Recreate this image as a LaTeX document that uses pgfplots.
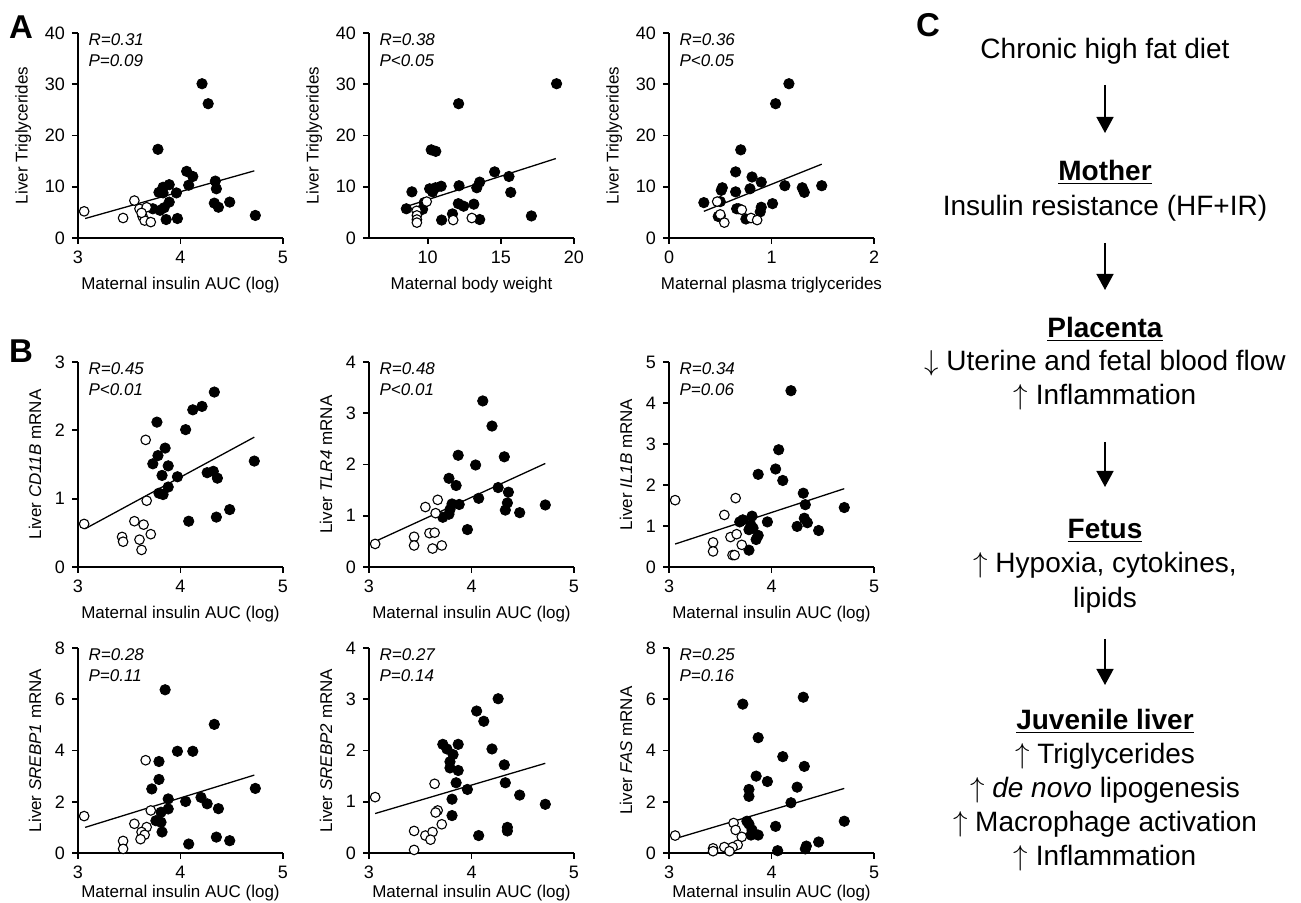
\documentclass[border=0pt]{standalone}
\usepackage{fontspec}
\setmainfont{Liberation Sans}
\usepackage{pgfplots}
\pgfplotsset{compat=1.18}
\usetikzlibrary{arrows.meta}

% GraphPad-like scatter panels
\pgfplotsset{
  gp/.style={
    scale only axis, width=102.5pt, height=102.5pt,
    anchor=south west,
    axis lines=left, axis line style={-, line width=0.95pt},
    tick align=outside, major tick length=3pt,
    every tick/.style={line width=0.95pt, black},
    tick label style={font=\fontsize{9}{10}\selectfont},
    label style={font=\fontsize{8.5}{10}\selectfont},
    xlabel style={at={(axis description cs:0.5,-0.232)}, anchor=center},
    /pgf/number format/assume math mode=true,
    clip=false,
  },
  ins/.style={gp, xmin=3, xmax=5, xtick={3,4,5}, xlabel={Maternal insulin AUC (log)}},
  low/.style={xlabel style={at={(axis description cs:0.5,-0.195)}}},
  filled/.style={only marks, mark=*, mark size=2.6pt, mark options={fill=black, draw=black}},
  open/.style={only marks, mark=*, mark size=2.4pt, mark options={fill=white, draw=black, line width=0.55pt}},
  fit/.style={black, line width=0.65pt, no marks},
}
\newcommand{\rp}[2]{\node[anchor=north west, align=left, inner sep=0pt,
  font=\fontsize{8.5}{10.5}\selectfont\itshape] at (rel axis cs:0.05,1) {#1\\#2};}

\begin{document}
\begin{tikzpicture}
\path[use as bounding box] (0,0) rectangle (650.5pt,451.5pt);

% ---------- A ----------
\begin{axis}[ins, at={(39pt,332.5pt)}, ymin=0, ymax=40, ytick={0,10,20,30,40},
  ylabel={Liver Triglycerides}]
\addplot[fit] coordinates {(3.07,3.8) (4.72,13.1)};
\addplot[filled] coordinates {(4.21,30.1)(4.27,26.2)(3.78,17.3)(4.06,13.0)(4.12,12.0)(4.08,10.3)(4.34,11.1)(4.35,9.6)(4.33,6.8)(4.37,6.0)(4.48,7.0)(3.96,8.8)(3.89,10.4)(3.83,9.9)(3.79,8.9)(3.83,8.8)(3.89,7.0)(3.84,5.9)(3.80,5.4)(3.73,5.7)(3.86,3.6)(3.97,3.8)(4.73,4.4)};
\addplot[open] coordinates {(3.06,5.2)(3.44,3.9)(3.55,7.3)(3.60,5.7)(3.67,6.0)(3.63,4.2)(3.65,3.4)(3.71,3.1)(3.62,4.9)};
\rp{R=0.31}{P=0.09}
\end{axis}

\begin{axis}[gp, at={(184.5pt,332.5pt)}, xmin=6, xmax=20, xtick={10,15,20},
  ymin=0, ymax=40, ytick={0,10,20,30,40},
  xlabel={Maternal body weight}, ylabel={Liver Triglycerides}]
\addplot[fit] coordinates {(8.4,6.0) (18.76,15.5)};
\addplot[filled] coordinates {(18.81,30.1)(12.12,26.2)(10.25,17.2)(10.56,16.9)(8.93,9.0)(8.55,5.7)(9.66,5.6)(9.77,6.9)(10.14,9.6)(10.34,9.0)(10.54,9.8)(10.93,10.1)(12.15,10.2)(10.96,3.5)(11.7,4.7)(12.1,6.7)(12.46,6.2)(13.16,6.6)(13.36,9.8)(13.56,10.9)(13.56,3.6)(14.58,12.9)(15.56,12.0)(15.68,8.9)(17.09,4.3)};
\addplot[open] coordinates {(9.25,5.3)(9.27,4.4)(9.27,3.6)(9.27,3.0)(9.94,7.1)(11.75,3.5)(13.02,3.9)};
\rp{R=0.38}{P<0.05}
\end{axis}

\begin{axis}[gp, at={(334.5pt,332.5pt)}, xmin=0, xmax=2, xtick={0,1,2},
  ymin=0, ymax=40, ytick={0,10,20,30,40},
  xlabel={Maternal plasma triglycerides}, ylabel={Liver Triglycerides}]
\addplot[fit] coordinates {(0.34,5.2) (1.49,14.4)};
\addplot[filled] coordinates {(0.34,6.9)(0.51,9.3)(0.52,9.8)(0.50,7.1)(0.48,4.2)(0.65,12.9)(0.65,9.0)(0.70,17.2)(0.66,5.7)(0.68,5.7)(0.75,3.7)(0.79,9.6)(0.81,11.9)(0.90,10.9)(0.90,6.0)(0.89,5.1)(1.01,6.7)(1.04,26.2)(1.17,30.1)(1.13,10.2)(1.30,9.8)(1.32,8.9)(1.49,10.2)(0.5,4.3)};
\addplot[open] coordinates {(0.47,7.1)(0.54,3.0)(0.71,5.5)(0.80,3.9)(0.86,3.5)(0.50,4.6)};
\rp{R=0.36}{P<0.05}
\end{axis}

% ---------- B, first row ----------
\begin{axis}[ins, at={(39pt,168pt)}, ymin=0, ymax=3, ytick={0,1,2,3},
  ylabel={Liver \textit{CD11B} mRNA}]
\addplot[fit] coordinates {(3.07,0.56) (4.72,1.90)};
\addplot[filled] coordinates {(4.33,2.56)(4.21,2.35)(4.12,2.30)(4.05,2.01)(3.77,2.12)(3.78,1.63)(3.85,1.74)(3.73,1.51)(3.88,1.48)(3.82,1.34)(3.97,1.32)(3.88,1.17)(3.79,1.08)(3.83,1.06)(4.26,1.38)(4.32,1.40)(4.36,1.30)(4.35,0.73)(4.48,0.84)(4.08,0.67)(4.72,1.55)};
\addplot[open] coordinates {(3.06,0.63)(3.66,1.86)(3.67,0.97)(3.55,0.67)(3.64,0.62)(3.71,0.48)(3.43,0.44)(3.44,0.37)(3.60,0.40)(3.62,0.25)};
\rp{R=0.45}{P<0.01}
\end{axis}

\begin{axis}[ins, at={(184.5pt,168pt)}, ymin=0, ymax=4, ytick={0,1,2,3,4},
  ylabel={Liver \textit{TLR4} mRNA}]
\addplot[fit] coordinates {(3.04,0.48) (4.72,2.02)};
\addplot[filled] coordinates {(4.11,3.24)(4.20,2.75)(3.87,2.18)(4.04,1.99)(4.32,2.15)(3.78,1.73)(3.85,1.59)(4.26,1.55)(4.36,1.46)(3.81,1.23)(3.88,1.22)(3.79,1.12)(3.78,1.03)(3.72,0.97)(4.07,1.34)(4.35,1.25)(4.33,1.11)(4.47,1.06)(4.72,1.21)(3.96,0.73)};
\addplot[open] coordinates {(3.06,0.45)(3.44,0.59)(3.44,0.42)(3.55,1.17)(3.67,1.31)(3.65,1.05)(3.59,0.66)(3.64,0.67)(3.62,0.36)(3.71,0.42)};
\rp{R=0.48}{P<0.01}
\end{axis}

\begin{axis}[ins, at={(334.5pt,168pt)}, ymin=0, ymax=5, ytick={0,1,2,3,4,5},
  ylabel={Liver \textit{IL1B} mRNA}]
\addplot[fit] coordinates {(3.06,0.56) (4.71,1.91)};
\addplot[filled] coordinates {(4.19,4.30)(4.07,2.86)(4.04,2.39)(4.11,2.11)(3.87,2.26)(4.31,1.80)(4.33,1.52)(4.32,1.19)(4.35,1.08)(4.25,0.99)(4.46,0.89)(4.71,1.45)(3.96,1.10)(3.69,1.10)(3.72,1.15)(3.81,1.24)(3.80,1.02)(3.78,0.91)(3.82,0.95)(3.87,0.77)(3.85,0.67)(3.78,0.41)};
\addplot[open] coordinates {(3.06,1.63)(3.65,1.68)(3.54,1.27)(3.43,0.60)(3.43,0.38)(3.60,0.73)(3.66,0.80)(3.71,0.54)(3.62,0.29)(3.64,0.29)};
\rp{R=0.34}{P=0.06}
\end{axis}

% ---------- B, second row ----------
\begin{axis}[ins, low, at={(39pt,25pt)}, ymin=0, ymax=8, ytick={0,2,4,6,8},
  ylabel={Liver \textit{SREBP1} mRNA}]
\addplot[fit] coordinates {(3.07,1.0) (4.72,3.04)};
\addplot[filled] coordinates {(3.85,6.37)(4.33,5.02)(3.97,3.97)(4.12,3.97)(3.79,3.57)(3.79,2.87)(3.72,2.50)(3.88,2.11)(4.05,2.01)(4.20,2.17)(4.26,1.92)(4.37,1.73)(3.88,1.72)(3.81,1.59)(3.76,1.26)(3.81,1.20)(3.82,0.82)(4.08,0.35)(4.35,0.62)(4.48,0.48)(4.73,2.52)};
\addplot[open] coordinates {(3.06,1.44)(3.66,3.62)(3.71,1.66)(3.55,1.14)(3.67,1.01)(3.62,0.82)(3.65,0.71)(3.61,0.54)(3.44,0.47)(3.44,0.16)};
\rp{R=0.28}{P=0.11}
\end{axis}

\begin{axis}[ins, low, at={(184.5pt,25pt)}, ymin=0, ymax=4, ytick={0,1,2,3,4},
  ylabel={Liver \textit{SREBP2} mRNA}]
\addplot[fit] coordinates {(3.06,0.77) (4.72,1.75)};
\addplot[filled] coordinates {(4.26,3.01)(4.05,2.77)(4.12,2.57)(3.72,2.12)(3.87,2.12)(3.76,2.03)(3.82,1.92)(3.79,1.78)(3.79,1.66)(3.87,1.61)(4.20,2.03)(4.32,1.72)(3.85,1.37)(4.33,1.37)(3.96,1.24)(3.81,1.05)(4.47,1.13)(4.72,0.95)(3.81,0.73)(4.07,0.34)(4.35,0.50)(4.35,0.43)};
\addplot[open] coordinates {(3.06,1.09)(3.64,1.35)(3.67,0.83)(3.65,0.79)(3.71,0.56)(3.44,0.43)(3.55,0.34)(3.62,0.41)(3.60,0.26)(3.44,0.06)};
\rp{R=0.27}{P=0.14}
\end{axis}

\begin{axis}[ins, low, at={(334.5pt,25pt)}, ymin=0, ymax=8, ytick={0,2,4,6,8},
  ylabel={Liver \textit{FAS} mRNA}]
\addplot[fit] coordinates {(3.06,0.56) (4.71,2.52)};
\addplot[filled] coordinates {(3.72,5.81)(4.31,6.08)(3.87,4.50)(4.11,3.76)(4.32,3.38)(3.85,3.00)(3.96,2.79)(3.78,2.48)(3.78,2.21)(4.25,2.57)(4.19,1.96)(3.76,1.24)(3.78,1.13)(3.81,0.90)(3.80,0.70)(3.87,0.70)(4.04,1.04)(4.71,1.24)(4.46,0.43)(4.34,0.27)(4.33,0.16)(4.06,0.09)};
\addplot[open] coordinates {(3.06,0.68)(3.63,1.17)(3.65,0.90)(3.71,0.63)(3.67,0.32)(3.62,0.23)(3.54,0.23)(3.43,0.18)(3.43,0.07)(3.59,0.07)};
\rp{R=0.25}{P=0.16}
\end{axis}

% ---------- panel letters ----------
\node[font=\fontsize{16.5}{18}\selectfont\bfseries] at (10.5pt,438pt) {A};
\node[font=\fontsize{16.5}{18}\selectfont\bfseries] at (10.5pt,276pt) {B};
\node[font=\fontsize{16.5}{18}\selectfont\bfseries] at (464pt,439pt) {C};

% ---------- C: scheme ----------
\begin{scope}[every node/.style={font=\fontsize{14}{17}\selectfont, inner sep=0pt,
    text height=1.6ex, text depth=0.4ex},
  arr/.style={line width=0.75pt, -{Triangle[length=8pt,width=8.5pt]}}]
\node at (552.5pt,425.5pt) {Chronic high fat diet};
\draw[arr] (552.5pt,409pt) -- (552.5pt,385pt);
\node at (552.5pt,364.5pt) {\underline{\textbf{Mother}}};
\node at (552.5pt,347pt) {Insulin resistance (HF+IR)};
\draw[arr] (552.5pt,330pt) -- (552.5pt,306.5pt);
\node at (552.5pt,286pt) {\underline{\textbf{Placenta}}};
\node at (552.5pt,269.5pt) {$\downarrow$ Uterine and fetal blood flow};
\node at (552.5pt,252.5pt) {$\uparrow$ Inflammation};
\draw[arr] (552.5pt,230.5pt) -- (552.5pt,208pt);
\node at (552.5pt,185.5pt) {\underline{\textbf{Fetus}}};
\node at (552.5pt,168.5pt) {$\uparrow$ Hypoxia, cytokines,};
\node at (552.5pt,151pt) {lipids};
\draw[arr] (552.5pt,132pt) -- (552.5pt,109pt);
\node at (552.5pt,90pt) {\underline{\textbf{Juvenile liver}}};
\node at (552.5pt,73pt) {$\uparrow$ Triglycerides};
\node at (552.5pt,56pt) {$\uparrow$ \textit{de novo} lipogenesis};
\node at (552.5pt,39pt) {$\uparrow$ Macrophage activation};
\node at (552.5pt,22pt) {$\uparrow$ Inflammation};
\end{scope}
\end{tikzpicture}
\end{document}
